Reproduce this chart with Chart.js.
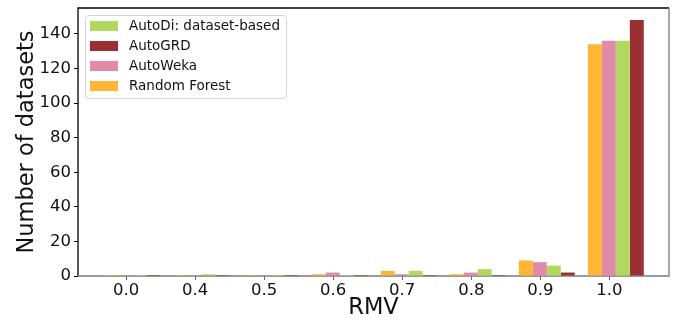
<!DOCTYPE html>
<html><head><meta charset="utf-8">
<script src="https://cdn.jsdelivr.net/npm/chart.js@4"></script>
<style>html,body{margin:0;padding:0;background:#fff}#wrap{width:675px;height:322px}</style>
</head><body><div id="wrap"><canvas id="c" width="675" height="322"></canvas></div>
<script>
const categories = ["0.0","0.4","0.5","0.6","0.7","0.8","0.9","1.0"];
const randomForest = [0,0,0,1,3,1,9,134];
const autoWeka     = [0,0,0,2,1,2,8,136];
const autoDi       = [0,1,0,0,3,4,6,136];
const autoGRD      = [0,0,0,0,0,0,2,148];
const yTicks = [0,20,40,60,80,100,120,140];
const legendOrder = ["AutoDi: dataset-based","AutoGRD","AutoWeka","Random Forest"];

const F = "'DejaVu Sans', sans-serif";
const TXT = '#111';
const toXY = arr => arr.map((v,i)=>({x:i, y:v}));

const customLegend = {
  id:'customLegend',
  afterDraw(chart){
    const a = chart.chartArea, ctx = chart.ctx;
    const x0 = a.left + 7, y0 = a.top + 7;
    ctx.save();
    ctx.font = "13.5px " + F;
    let maxW = 0;
    legendOrder.forEach(t=>maxW=Math.max(maxW, ctx.measureText(t).width));
    const w = 44 + maxW + 6, h = 83;
    ctx.fillStyle='rgba(255,255,255,0.8)';
    ctx.strokeStyle='#d5d5d5'; ctx.lineWidth=1;
    ctx.beginPath(); ctx.roundRect(x0+0.5,y0+0.5,w,h,3); ctx.fill(); ctx.stroke();
    legendOrder.forEach((t,i)=>{
      const ds = chart.data.datasets.find(d=>d.label===t);
      const ry = y0 + 6 + i*20;
      ctx.fillStyle = ds.backgroundColor;
      ctx.fillRect(x0+5, ry, 28, 10);
      ctx.fillStyle = TXT; ctx.textBaseline='middle'; ctx.textAlign='left';
      ctx.fillText(t, x0+44, ry+5.5);
    });
    ctx.restore();
  }
};
const frame = {
  id:'frame',
  beforeDatasetsDraw(chart){
    const a = chart.chartArea, ctx = chart.ctx; ctx.save();
    ctx.lineWidth=1.3;
    ctx.strokeStyle='#000';
    ctx.beginPath(); ctx.moveTo(a.left,a.bottom); ctx.lineTo(a.left,a.top); ctx.lineTo(a.right,a.top); ctx.stroke();
    ctx.strokeStyle='#7a7a7a';
    ctx.beginPath(); ctx.moveTo(a.left,a.bottom); ctx.lineTo(a.right,a.bottom); ctx.lineTo(a.right,a.top); ctx.stroke();
    ctx.restore();
  }
};

new Chart(document.getElementById('c'), {
  type:'bar',
  data:{ datasets:[
    {label:'Random Forest', data:toXY(randomForest), backgroundColor:'#ffb634'},
    {label:'AutoWeka', data:toXY(autoWeka), backgroundColor:'#e28ba7'},
    {label:'AutoDi: dataset-based', data:toXY(autoDi), backgroundColor:'#b1d960'},
    {label:'AutoGRD', data:toXY(autoGRD), backgroundColor:'#9b3034'}
  ]},
  options:{
    responsive:false, animation:false,
    layout:{padding:{top:8,right:6,left:0,bottom:0}},
    datasets:{bar:{categoryPercentage:0.81, barPercentage:1.0, borderWidth:0, minBarLength:1}},
    plugins:{ tooltip:{enabled:false}, legend:{display:false} },
    scales:{
      x:{type:'linear', min:-0.79, max:7.77, offset:false,
        grid:{display:true, offset:false, drawOnChartArea:false, drawTicks:true, tickLength:4, tickColor:'#666', color:'#666'},
        border:{display:false},
        afterBuildTicks:s=>{ s.ticks = categories.map((c,i)=>({value:i-0.094})); },
        ticks:{color:TXT, font:{family:F,size:16.5}, padding:1, maxRotation:0, autoSkip:false,
          callback:(v,i)=>categories[i]},
        title:{display:true, text:'RMV', color:TXT, font:{family:F,size:22.5}, padding:{top:0,bottom:0}},
        afterFit:s=>{s.height=46; s.paddingLeft=0; s.paddingRight=0;}
      },
      y:{min:0, max:155,
        grid:{display:true, drawOnChartArea:false, drawTicks:true, tickLength:4, tickColor:'#000', color:'#000'},
        border:{display:false},
        afterBuildTicks:s=>{ s.ticks = yTicks.map(v=>({value:v})); },
        ticks:{color:TXT, font:{family:F,size:16.5}, padding:3},
        title:{display:true, text:'Number of datasets', color:TXT, font:{family:F,size:22.5}, padding:{top:14,bottom:2}},
        afterFit:s=>{s.width=78; s.paddingTop=0; s.paddingBottom=0;}
      }
    }
  },
  plugins:[customLegend, frame]
});
</script></body></html>
